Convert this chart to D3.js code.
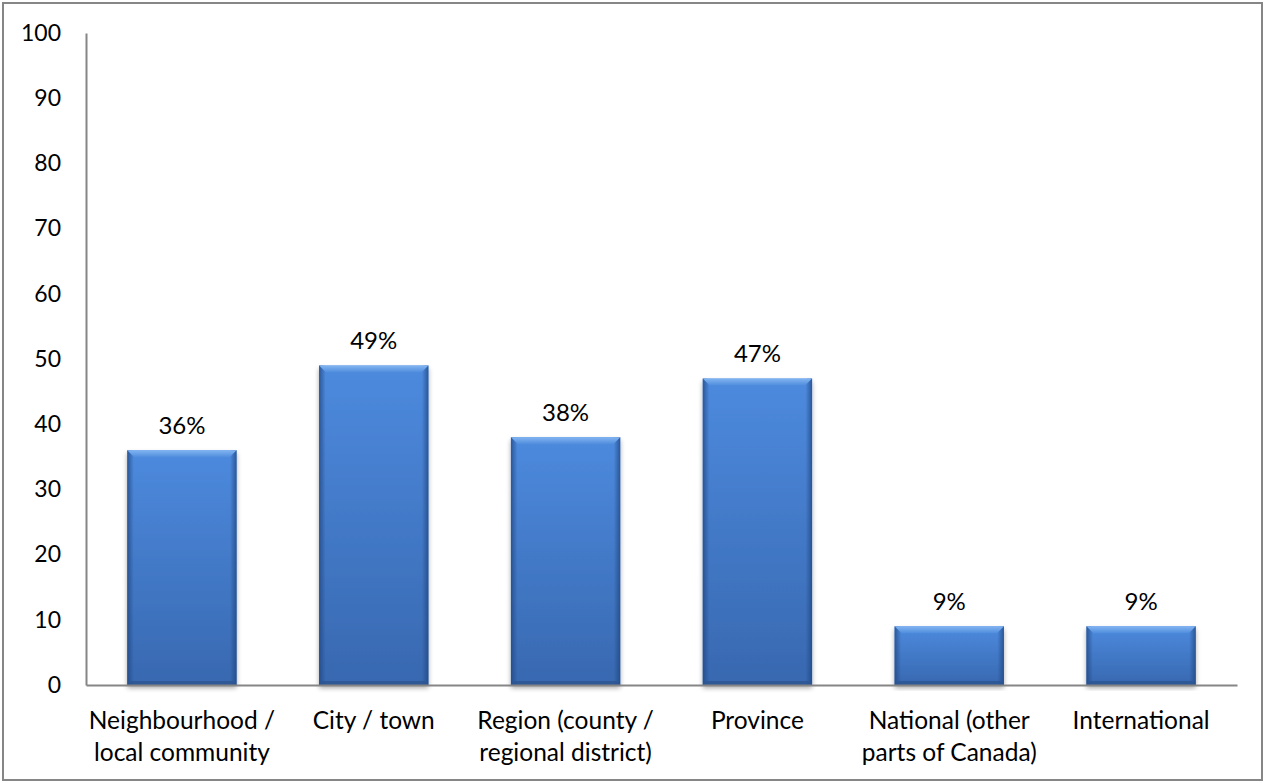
<!DOCTYPE html>
<html>
<head>
<meta charset="utf-8">
<script src="https://cdn.jsdelivr.net/npm/d3@7/dist/d3.min.js"></script>
<style>
  html, body { margin: 0; padding: 0; background: #fff; }
  svg { display: block; }
  text { font-family: Lato, "Open Sans", sans-serif; fill: #000; }
</style>
</head>
<body>
<svg id="chart" width="1265" height="783"></svg>
<script>
// Share of respondents by geographic scope
const categories = [
  ["Neighbourhood /", "local community"],
  ["City / town"],
  ["Region (county /", "regional district)"],
  ["Province"],
  ["National (other", "parts of Canada)"],
  ["International"]
];
const values = [36, 49, 38, 47, 9, 9];
const valueLabels = ["36%", "49%", "38%", "47%", "9%", "9%"];
const yTicks = [0, 10, 20, 30, 40, 50, 60, 70, 80, 90, 100];

const W = 1265, H = 783;
const svg = d3.select("#chart");
const margin = { left: 86, right: 28, top: 33, bottom: 98 };

const x = d3.scaleBand()
  .domain(d3.range(categories.length))
  .range([margin.left, W - margin.right])
  .paddingInner(0.43)
  .paddingOuter(0.215);

const y = d3.scaleLinear()
  .domain([0, 100])
  .range([H - margin.bottom, margin.top]);

// outer frame
svg.append("rect")
  .attr("x", 3).attr("y", 3)
  .attr("width", W - 6).attr("height", H - 6)
  .attr("fill", "#fff")
  .attr("stroke", "#868686").attr("stroke-width", 2);

const defs = svg.append("defs");

const body = defs.append("linearGradient").attr("id", "barBody")
  .attr("x1", 0).attr("y1", 0).attr("x2", 0).attr("y2", 1);
body.append("stop").attr("offset", 0).attr("stop-color", "#4d8ade");
body.append("stop").attr("offset", 1).attr("stop-color", "#3868b0");

const sides = defs.append("linearGradient").attr("id", "barSides")
  .attr("x1", 0).attr("y1", 0).attr("x2", 1).attr("y2", 0);
sides.append("stop").attr("offset", 0).attr("stop-color", "#1f4680").attr("stop-opacity", 0.75);
sides.append("stop").attr("offset", 0.06).attr("stop-color", "#1f4680").attr("stop-opacity", 0);
sides.append("stop").attr("offset", 0.94).attr("stop-color", "#1f4680").attr("stop-opacity", 0);
sides.append("stop").attr("offset", 1).attr("stop-color", "#1f4680").attr("stop-opacity", 0.75);

const bevel = defs.append("linearGradient").attr("id", "barBevel")
  .attr("x1", 0).attr("y1", 0).attr("x2", 0).attr("y2", 1);
bevel.append("stop").attr("offset", 0).attr("stop-color", "#82b5f2");
bevel.append("stop").attr("offset", 1).attr("stop-color", "#4f8cdc");

const shadow = defs.append("filter").attr("id", "barShadow")
  .attr("x", "-10%").attr("y", "-10%").attr("width", "120%").attr("height", "120%");
shadow.append("feGaussianBlur").attr("in", "SourceAlpha").attr("stdDeviation", 2.5);
shadow.append("feOffset").attr("dx", 0).attr("dy", 3).attr("result", "off");
shadow.append("feComponentTransfer").append("feFuncA").attr("type", "linear").attr("slope", 0.35);
const merge = shadow.append("feMerge");
merge.append("feMergeNode");
merge.append("feMergeNode").attr("in", "SourceGraphic");

// bars
const bars = svg.append("g").selectAll("g.bar")
  .data(values)
  .join("g")
  .attr("class", "bar");

bars.append("rect")
  .attr("x", (d, i) => x(i))
  .attr("y", d => y(d))
  .attr("width", x.bandwidth())
  .attr("height", d => y(0) - y(d))
  .attr("fill", "url(#barBody)")
  .attr("filter", "url(#barShadow)");

bars.append("rect")
  .attr("x", (d, i) => x(i))
  .attr("y", d => y(d))
  .attr("width", x.bandwidth())
  .attr("height", d => y(0) - y(d))
  .attr("fill", "url(#barSides)");

const bv = 7;
// lit top bevel
bars.append("path")
  .attr("d", (d, i) => {
    const x0 = x(i), x1 = x(i) + x.bandwidth(), t = y(d);
    return `M${x0},${t}L${x1},${t}L${x1 - bv},${t + bv}L${x0 + bv},${t + bv}Z`;
  })
  .attr("fill", "url(#barBevel)");

// shaded bottom edge
bars.append("path")
  .attr("d", (d, i) => {
    const x0 = x(i), x1 = x(i) + x.bandwidth(), b = y(0);
    return `M${x0},${b}L${x1},${b}L${x1 - 4},${b - 4}L${x0 + 4},${b - 4}Z`;
  })
  .attr("fill", "#2c5590").attr("opacity", 0.8);

// value labels
svg.append("g").selectAll("text")
  .data(values)
  .join("text")
  .attr("x", (d, i) => x(i) + x.bandwidth() / 2)
  .attr("y", d => y(d) - 25)
  .attr("dy", "0.35em")
  .attr("text-anchor", "middle")
  .style("font-size", "24px")
  .text((d, i) => valueLabels[i]);

// y axis
const yAxis = svg.append("g")
  .attr("transform", `translate(${margin.left},0)`)
  .call(d3.axisLeft(y).tickValues(yTicks).tickSize(0).tickPadding(25));
yAxis.select(".domain").attr("stroke", "#868686").attr("stroke-width", 2);
yAxis.selectAll("text")
  .style("font-size", "23px")
  .style("font-family", "Lato, 'Open Sans', sans-serif");

// x axis
const xAxis = svg.append("g")
  .attr("transform", `translate(0,${y(0)})`)
  .call(d3.axisBottom(x).tickSize(0).tickFormat(""));
xAxis.select(".domain").attr("stroke", "#868686").attr("stroke-width", 2);

const xl = svg.append("g").selectAll("text")
  .data(categories)
  .join("text")
  .attr("x", (d, i) => x(i) + x.bandwidth() / 2)
  .attr("y", y(0) + 35)
  .attr("dy", "0.35em")
  .attr("text-anchor", "middle")
  .style("font-size", "24.5px");
xl.selectAll("tspan")
  .data(d => d)
  .join("tspan")
  .attr("x", function () { return d3.select(this.parentNode).attr("x"); })
  .attr("dy", (d, j) => j === 0 ? "0.35em" : "32px")
  .text(d => d);
</script>
</body>
</html>
